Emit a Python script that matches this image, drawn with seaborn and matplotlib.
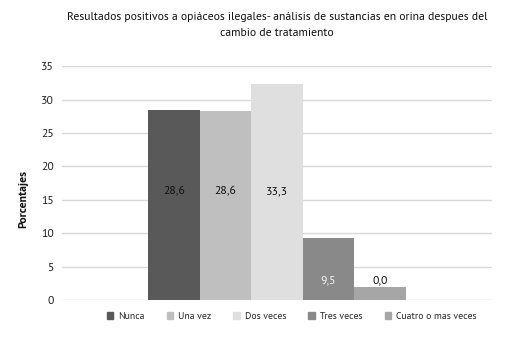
import matplotlib
matplotlib.use("Agg")
import numpy as np
import pandas as pd
import matplotlib.pyplot as plt
import seaborn as sns

# valores
categorias = ["Nunca", "Una vez", "Dos veces", "Tres veces", "Cuatro o mas veces"]
alturas = [28.5, 28.35, 32.3, 9.25, 1.9]
etiquetas = ["28,6", "28,6", "33,3", "9,5", "0,0"]
colores = ["#595959", "#bfbfbf", "#dfdfdf", "#898989", "#a6a6a6"]
yticks = [0, 5, 10, 15, 20, 25, 30, 35]

df = pd.DataFrame({"grupo": [""] * len(categorias), "categoria": categorias, "valor": alturas})

sns.set_theme(style="white")
plt.rcParams["font.family"] = ["PT Sans", "DejaVu Sans"]

fig = plt.figure(figsize=(5.1, 3.5), dpi=100)
ax = fig.add_axes([0.1216, 0.143, 0.843, 0.668])

sns.barplot(data=df, x="grupo", y="valor", hue="categoria", hue_order=categorias,
            palette=dict(zip(categorias, colores)), width=0.6, saturation=1,
            linewidth=0, ax=ax, legend=False)

ax.set_xlim(-0.5, 0.5)
ax.set_ylim(0, 35)
ax.set_yticks(yticks)
ax.set_yticklabels([str(t) for t in yticks], fontsize=8.5, color="#222222")
ax.set_xticks([])
ax.set_xlabel("")
ax.grid(axis="y", color="#d9d9d9", linewidth=1)
ax.set_axisbelow(True)
for s in ax.spines.values():
    s.set_visible(False)
ax.tick_params(axis="y", length=0, pad=6)

ax.set_ylabel("Porcentajes", fontsize=8.5, fontweight="bold", color="#111111")
ax.yaxis.set_label_coords(-0.078, 0.43)

# etiquetas de datos
h_arr = np.array(alturas)
label_y = np.where(h_arr > 15, 16.2, 2.9)
for patch, txt, yv in zip(ax.patches, etiquetas, label_y):
    xc = patch.get_x() + patch.get_width() / 2
    color = "#f4f4f4" if txt == "9,5" else "#111111"
    ax.text(xc, yv, txt, ha="center", va="center", fontsize=8.5, color=color)

ax.set_title("Resultados positivos a opiáceos ilegales- análisis de sustancias en orina despues del\ncambio de tratamiento",
             fontsize=8.4, color="#111111", pad=22, linespacing=1.65)

handles = [plt.Rectangle((0, 0), 1, 1, color=c) for c in colores]
fig.legend(handles, categorias, loc="center", bbox_to_anchor=(0.572, 0.097), ncol=5,
           frameon=False, fontsize=7, handlelength=0.7, handleheight=0.7,
           handletextpad=0.5, columnspacing=2.25)

fig.savefig("out.png", dpi=100)
